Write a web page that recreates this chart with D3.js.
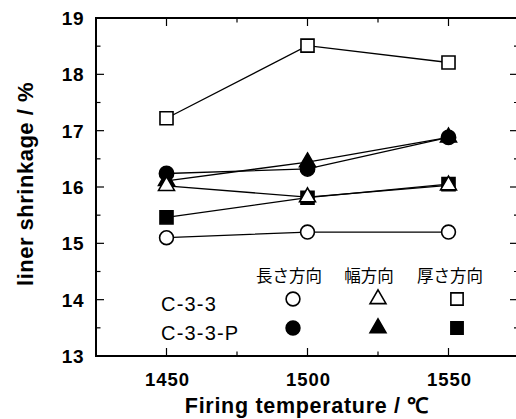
<!DOCTYPE html>
<html><head><meta charset="utf-8">
<script src="https://cdn.jsdelivr.net/npm/d3@7"></script>
<style>body{margin:0;background:#fff}svg{display:block}</style>
</head><body>
<svg id="c" width="516" height="419"></svg>
<script>
const temps = [1450, 1500, 1550];
// C-3-3 (open)
const c33Length = [15.1, 15.2, 15.2];
const c33Width = [16.02, 15.82, 16.03];
const c33Thick = [17.22, 18.51, 18.21];
// C-3-3-P (filled)
const c33pLength = [16.24, 16.32, 16.88];
const c33pWidth = [16.11, 16.44, 16.88];
const c33pThick = [15.46, 15.81, 16.05];
const xTicks = [1450, 1500, 1550];
const yTicks = [13, 14, 15, 16, 17, 18, 19];
const dirLabels = ["長さ方向", "幅方向", "厚さ方向"];
const sampleLabels = ["C-3-3", "C-3-3-P"];

const svg = d3.select("#c");
const x = d3.scaleLinear().domain([1425, 1575]).range([96, 519]);
const y = d3.scaleLinear().domain([13, 19]).range([356, 18]);
const font = "'Liberation Sans', Arial, sans-serif";

// frame
svg.append("rect").attr("x", x(1425)).attr("y", y(19))
  .attr("width", x(1575) - x(1425)).attr("height", y(13) - y(19))
  .attr("fill", "none").attr("stroke", "#000").attr("stroke-width", 2);

// ticks
const xMinor = [1475, 1525];
const yMinor = [13.5, 14.5, 15.5, 16.5, 17.5, 18.5];
const tk = svg.append("g").attr("stroke", "#000").attr("stroke-width", 1.2);
xTicks.forEach(t => {
  tk.append("line").attr("x1", x(t)).attr("x2", x(t)).attr("y1", y(13)).attr("y2", y(13) - 8);
  tk.append("line").attr("x1", x(t)).attr("x2", x(t)).attr("y1", y(19)).attr("y2", y(19) + 8);
});
xMinor.forEach(t => {
  tk.append("line").attr("x1", x(t)).attr("x2", x(t)).attr("y1", y(13)).attr("y2", y(13) - 4.5);
  tk.append("line").attr("x1", x(t)).attr("x2", x(t)).attr("y1", y(19)).attr("y2", y(19) + 4.5);
});
yTicks.forEach(t => {
  tk.append("line").attr("y1", y(t)).attr("y2", y(t)).attr("x1", x(1425)).attr("x2", x(1425) + 8);
  tk.append("line").attr("y1", y(t)).attr("y2", y(t)).attr("x1", x(1575)).attr("x2", x(1575) - 9);
});
yMinor.forEach(t => {
  tk.append("line").attr("y1", y(t)).attr("y2", y(t)).attr("x1", x(1425)).attr("x2", x(1425) + 4.5);
  tk.append("line").attr("y1", y(t)).attr("y2", y(t)).attr("x1", x(1575)).attr("x2", x(1575) - 5);
});

// tick labels
svg.append("g").selectAll("text").data(yTicks).join("text")
  .attr("x", 84).attr("y", d => y(d) + 7)
  .attr("text-anchor", "end").attr("font-family", font).attr("font-weight", "bold")
  .attr("font-size", 19).attr("letter-spacing", 0.5).text(d => d);
svg.append("g").selectAll("text").data(xTicks).join("text")
  .attr("x", d => x(d) + 1).attr("y", 386)
  .attr("text-anchor", "middle").attr("font-family", font).attr("font-weight", "bold")
  .attr("font-size", 18.5).attr("letter-spacing", 1).text(d => d);

// axis titles
svg.append("text").attr("x", 307).attr("y", 413).attr("text-anchor", "middle")
  .attr("font-family", font).attr("font-weight", "bold").attr("font-size", 21.5)
  .attr("letter-spacing", 0.7)
  .text("Firing temperature / ℃");
svg.append("text").attr("transform", "translate(33,184) rotate(-90)").attr("text-anchor", "middle")
  .attr("font-family", font).attr("font-weight", "bold").attr("font-size", 22)
  .attr("letter-spacing", 0.5)
  .text("liner shrinkage / %");

// series
const series = [
  {v: c33pThick, shape: d3.symbolSquare, size: 170, fill: "#000"},
  {v: c33pWidth, shape: d3.symbolTriangle, size: 110, fill: "#000"},
  {v: c33pLength, shape: d3.symbolCircle, size: 160, fill: "#000"},
  {v: c33Length, shape: d3.symbolCircle, size: 150, fill: "#fff"},
  {v: c33Width, shape: d3.symbolTriangle, size: 110, fill: "#fff"},
  {v: c33Thick, shape: d3.symbolSquare, size: 170, fill: "#fff"},
];
const line = d3.line().x((d, i) => x(temps[i])).y(d => y(d));
series.forEach(s => {
  svg.append("path").attr("d", line(s.v)).attr("fill", "none").attr("stroke", "#000").attr("stroke-width", 1.3);
});
series.forEach(s => {
  svg.append("g").selectAll("path").data(s.v).join("path")
    .attr("transform", (d, i) => `translate(${x(temps[i])},${y(d)})`)
    .attr("d", d3.symbol().type(s.shape).size(s.size))
    .attr("fill", s.fill).attr("stroke", "#000").attr("stroke-width", 1.6);
});

// legend
const legX = [293, 378, 457];
const rowY = [299, 328];
svg.append("g").selectAll("text").data(dirLabels).join("text")
  .attr("x", (d, i) => [289, 369, 450][i]).attr("y", 282).attr("text-anchor", "middle")
  .attr("font-family", "'Noto Sans CJK JP', sans-serif").attr("font-size", 16.5)
  .text(d => d);
svg.append("g").selectAll("text").data(sampleLabels).join("text")
  .attr("x", 161).attr("y", (d, i) => [311, 340][i]).attr("font-family", font)
  .attr("font-size", 20).attr("letter-spacing", 1.2).text(d => d);
const legShapes = [d3.symbolCircle, d3.symbolTriangle, d3.symbolSquare];
const legSizes = [150, 110, 150];
rowY.forEach((ry, r) => {
  legShapes.forEach((sh, i) => {
    svg.append("path").attr("transform", `translate(${legX[i]},${ry})`)
      .attr("d", d3.symbol().type(sh).size(legSizes[i]))
      .attr("fill", r === 0 ? "#fff" : "#000").attr("stroke", "#000").attr("stroke-width", 1.6);
  });
});
</script>
</body></html>
